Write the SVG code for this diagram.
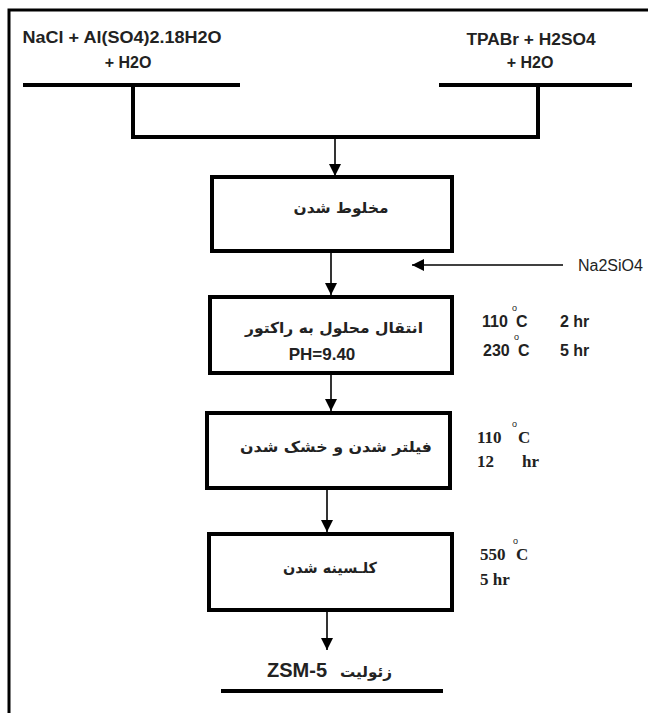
<svg xmlns="http://www.w3.org/2000/svg" width="648" height="713" viewBox="0 0 648 713">
<defs>
<marker id="ah" markerUnits="userSpaceOnUse" markerWidth="12" markerHeight="12" refX="12" refY="6" orient="auto">
<path d="M0,0 L12,6 L0,12 Z" fill="#000"/>
</marker>
<style>
.box{fill:#fff;stroke:#000;stroke-width:4}
.bar{fill:none;stroke:#000;stroke-width:4}
.arr{fill:none;stroke:#000;stroke-width:1.6;marker-end:url(#ah)}
.lat{font-family:"Liberation Sans",Arial,sans-serif;font-weight:bold;fill:#222}
.reg{font-family:"Liberation Sans",Arial,sans-serif;font-weight:normal;fill:#222}
.ser{font-family:"Liberation Serif","Times New Roman",serif;font-weight:bold;fill:#222}
.fa{font-family:"DejaVu Sans",sans-serif;font-weight:bold;fill:#222;font-size:15px}
.deg{font-family:"Liberation Sans",Arial,sans-serif;font-size:9px;fill:#222}
</style>
</defs>
<rect x="0" y="0" width="648" height="713" fill="#fff"/>
<rect x="9" y="10" width="700" height="760" fill="none" stroke="#000" stroke-width="3"/>

<g id="input-left">
<text class="lat" x="122" y="43" font-size="16" text-anchor="middle" textLength="199" lengthAdjust="spacingAndGlyphs">NaCl + Al(SO4)2.18H2O</text>
<text class="lat" x="128" y="68" font-size="16" text-anchor="middle">+ H2O</text>
<line class="bar" x1="23" y1="85" x2="240" y2="85"/>
</g>
<g id="input-right">
<text class="lat" x="531" y="45" font-size="16" text-anchor="middle" textLength="129" lengthAdjust="spacingAndGlyphs">TPABr + H2SO4</text>
<text class="lat" x="530" y="68" font-size="16" text-anchor="middle">+ H2O</text>
<line class="bar" x1="439" y1="85" x2="632" y2="85"/>
</g>

<g id="mix">
<rect class="box" x="212" y="177" width="240" height="74"/>
<text class="fa" x="341" y="213" text-anchor="middle" direction="rtl" textLength="95" lengthAdjust="spacingAndGlyphs">مخلوط شدن</text>
</g>

<g id="na2sio4">
<text class="reg" x="578" y="271" font-size="16">Na2SiO4</text>
</g>

<g id="reactor">
<rect class="box" x="210" y="297" width="242" height="76"/>
<text class="fa" x="334" y="333" text-anchor="middle" direction="rtl" textLength="178" lengthAdjust="spacingAndGlyphs">انتقال محلول به راکتور</text>
<text class="lat" x="322" y="360" font-size="17" text-anchor="middle">PH=9.40</text>
</g>
<g id="reactor-cond">
<text class="lat" x="482" y="327" font-size="16">110</text>
<text class="deg" x="512" y="311">o</text>
<text class="lat" x="516" y="327" font-size="16">C</text>
<text class="lat" x="560" y="327" font-size="16">2 hr</text>
<text class="lat" x="483" y="356" font-size="16">230</text>
<text class="deg" x="514" y="340">o</text>
<text class="lat" x="518" y="356" font-size="16">C</text>
<text class="lat" x="560" y="356" font-size="16">5 hr</text>
</g>

<g id="filter">
<rect class="box" x="207" y="413" width="243" height="75"/>
<text class="fa" x="336" y="452" text-anchor="middle" direction="rtl" textLength="192" lengthAdjust="spacingAndGlyphs">فیلتر شدن و خشک شدن</text>
</g>
<g id="filter-cond">
<text class="ser" x="477" y="443" font-size="17">110</text>
<text class="deg" x="512" y="427">o</text>
<text class="ser" x="518" y="443" font-size="17">C</text>
<text class="ser" x="477" y="467" font-size="17">12</text>
<text class="ser" x="522" y="467" font-size="17">hr</text>
</g>

<g id="calcine">
<rect class="box" x="209" y="534" width="243" height="76"/>
<text class="fa" x="330" y="573" text-anchor="middle" direction="rtl" textLength="94" lengthAdjust="spacingAndGlyphs">کلـسینه شدن</text>
</g>
<g id="calcine-cond">
<text class="ser" x="480" y="560" font-size="17">550</text>
<text class="deg" x="513" y="544">o</text>
<text class="ser" x="516" y="560" font-size="17">C</text>
<text class="ser" x="480" y="585" font-size="17">5 hr</text>
</g>

<g id="product">
<text class="lat" x="267" y="677" font-size="20" textLength="60" lengthAdjust="spacingAndGlyphs">ZSM-5</text>
<text class="fa" x="366" y="677" text-anchor="middle" direction="rtl" textLength="52" lengthAdjust="spacingAndGlyphs">زئولیت</text>
<line class="bar" x1="221" y1="691" x2="443" y2="691"/>
</g>

<g id="connectors">
<polyline class="bar" points="133,85 133,137 538,137 538,85"/>
<line class="arr" x1="335" y1="137" x2="335" y2="176"/>
<line class="arr" x1="331" y1="251" x2="331" y2="295"/>
<line class="arr" x1="563" y1="265" x2="412" y2="265"/>
<line class="arr" x1="331" y1="373" x2="331" y2="411"/>
<line class="arr" x1="327" y1="488" x2="327" y2="532"/>
<line class="arr" x1="327" y1="610" x2="327" y2="650"/>
</g>
</svg>
